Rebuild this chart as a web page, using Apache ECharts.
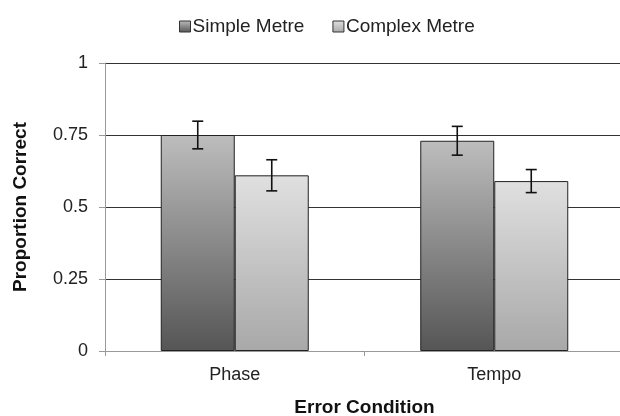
<!DOCTYPE html>
<html><head><meta charset="utf-8">
<script src="https://cdn.jsdelivr.net/npm/echarts@6/dist/echarts.min.js"></script>
<style>html,body{margin:0;padding:0;background:#fff}#c{width:620px;height:416px}</style>
</head><body><div id="c"></div>
<script>
var categories = ['Phase', 'Tempo'];
var simpleMetre = [0.75, 0.73];
var complexMetre = [0.61, 0.59];
var simpleErr = [0.048, 0.05];
var complexErr = [0.054, 0.04];
var yTicks = [0, 0.25, 0.5, 0.75, 1];

var chart = echarts.init(document.getElementById('c'));
var font = 'Liberation Sans, Arial, sans-serif';
function grad(top, bottom) {
  return new echarts.graphic.LinearGradient(0, 0, 0, 1, [{offset: 0, color: top}, {offset: 1, color: bottom}]);
}
var simpleGrad = grad('#bdbdbd', '#555555');
var complexGrad = grad('#e0e0e0', '#a8a8a8');
var barW = 74;
function errSeries(name, vals, errs, idx) {
  var data = vals.map(function (v, i) { return [i, v - errs[i], v + errs[i]]; });
  return {
    type: 'custom', name: name + ' err', silent: true, z: 10,
    renderItem: function (params, api) {
      var lo = api.coord([api.value(0), api.value(1)]);
      var hi = api.coord([api.value(0), api.value(2)]);
      var x = lo[0] + (idx === 0 ? -barW / 2 : barW / 2);
      var cap = 5.5;
      var st = {stroke: '#111', lineWidth: 1.6};
      return {type: 'group', children: [
        {type: 'line', shape: {x1: x, y1: lo[1], x2: x, y2: hi[1]}, style: st},
        {type: 'line', shape: {x1: x - cap, y1: lo[1], x2: x + cap, y2: lo[1]}, style: st},
        {type: 'line', shape: {x1: x - cap, y1: hi[1], x2: x + cap, y2: hi[1]}, style: st}
      ]};
    },
    encode: {x: 0, y: [1, 2]},
    data: data
  };
}
chart.setOption({
  animation: false,
  textStyle: {fontFamily: font},
  legend: {
    top: 12, left: 174, itemWidth: 11, itemHeight: 11, itemGap: 28, icon: 'rect',
    textStyle: {fontSize: 19, color: '#222', fontFamily: font, padding: [0, 0, 0, -3]},
    data: [
      {name: 'Simple Metre', itemStyle: {color: simpleGrad, borderColor: '#333', borderWidth: 1}},
      {name: 'Complex Metre', itemStyle: {color: complexGrad, borderColor: '#333', borderWidth: 1}}
    ]
  },
  grid: {left: 105, right: -4, top: 63, bottom: 65, containLabel: false, outerBoundsMode: 'none'},
  xAxis: {
    type: 'category', data: categories,
    name: 'Error Condition', nameLocation: 'middle', nameGap: 47,
    nameTextStyle: {fontSize: 19, fontWeight: 'bold', color: '#111', fontFamily: font},
    axisLine: {lineStyle: {color: '#999', width: 1}},
    axisTick: {show: true, alignWithLabel: false, length: 5, lineStyle: {color: '#999'}},
    axisLabel: {fontSize: 18, color: '#222', margin: 15, fontFamily: font}
  },
  yAxis: {
    type: 'value', min: 0, max: 1, interval: 0.25,
    name: 'Proportion Correct', nameLocation: 'middle', nameGap: 75,
    nameTextStyle: {fontSize: 19, fontWeight: 'bold', color: '#111', fontFamily: font},
    axisLine: {show: true, lineStyle: {color: '#999', width: 1}},
    axisTick: {show: true, length: 6, inside: false, lineStyle: {color: '#999'}},
    axisLabel: {fontSize: 18, color: '#222', margin: 17, fontFamily: font,
      formatter: function (v) { return String(v); }},
    splitLine: {lineStyle: {color: '#333', width: 1}}
  },
  series: [
    {name: 'Simple Metre', type: 'bar', data: simpleMetre, barWidth: barW, barGap: '0%',
      itemStyle: {color: simpleGrad, borderColor: '#222', borderWidth: 1}},
    {name: 'Complex Metre', type: 'bar', data: complexMetre, barWidth: barW, barGap: '0%',
      itemStyle: {color: complexGrad, borderColor: '#222', borderWidth: 1}},
    errSeries('Simple Metre', simpleMetre, simpleErr, 0),
    errSeries('Complex Metre', complexMetre, complexErr, 1)
  ]
});
</script></body></html>
